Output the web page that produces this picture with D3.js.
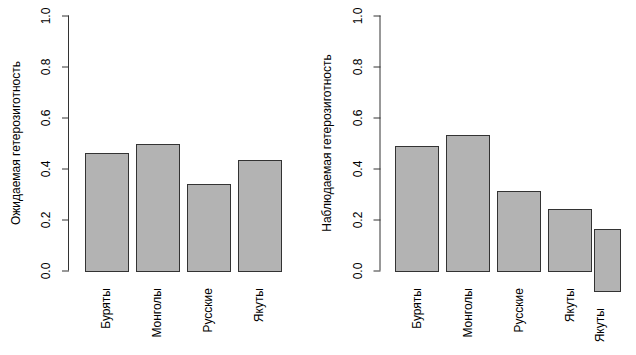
<!DOCTYPE html>
<html>
<head>
<meta charset="utf-8">
<script src="https://cdn.jsdelivr.net/npm/d3@7"></script>
<style>
  body { margin: 0; background: #fff; }
  svg text { font-family: "Liberation Sans", Arial, sans-serif; font-size: 12px; fill: #000; }
</style>
</head>
<body>
<div id="chart"></div>
<script>
// data
const groups = ["Буряты", "Монголы", "Русские", "Якуты"];
const expectedHet = [0.46, 0.495, 0.338, 0.435];
const observedGroups = ["Буряты", "Монголы", "Русские", "Якуты", "Якуты"];
const observedHet = [0.49, 0.53, 0.31, 0.24, 0.162];
const observedBase = [0, 0, 0, 0, -0.079];
const yTicks = [0, 0.2, 0.4, 0.6, 0.8, 1.0];

const width = 636, height = 355;
const unitPx = 42.5; // pixels per bar-width unit (R barplot style)

const svg = d3.select("#chart").append("svg")
    .attr("width", width)
    .attr("height", height);

const y = d3.scaleLinear().domain([0, 1]).range([270.5, 15.5]);

function drawPanel(opts) {
    const g = svg.append("g");
    const x = d3.scaleLinear().domain([0, 1]).range([opts.x0, opts.x0 + unitPx]);

    // bar slots: width 1, space 0.2 (unless a slot is overridden)
    const bars = opts.values.map((v, i) => {
        const slot = (opts.override && opts.override.index === i)
            ? opts.override
            : { x: 0.2 + i * 1.2, w: 1, labelX: 0.7 + i * 1.2 };
        return { name: opts.names[i], value: v, base: opts.bases ? opts.bases[i] : 0, slot };
    });

    g.selectAll("rect.bar")
        .data(bars)
        .enter().append("rect")
        .attr("class", "bar")
        .attr("x", d => Math.round(x(d.slot.x)) + 0.5)
        .attr("width", d => Math.round(x(d.slot.w) - x(0)))
        .attr("y", d => Math.round(y(d.value)) + 0.5)
        .attr("height", d => Math.round(y(d.base)) - Math.round(y(d.value)))
        .style("fill", "#b3b3b3")
        .style("stroke", "#333")
        .style("stroke-width", 1);

    // category labels, perpendicular to the axis
    g.selectAll("text.cat")
        .data(bars)
        .enter().append("text")
        .attr("class", "cat")
        .attr("text-anchor", "end")
        .attr("dy", "0.35em")
        .attr("transform", d => {
            const shift = y(d.base) - y(0);
            return `translate(${x(d.slot.labelX)},${288 + shift}) rotate(-90)`;
        })
        .text(d => d.name);

    // y axis
    const axis = g.append("g")
        .attr("transform", `translate(${opts.axisX},0)`)
        .call(d3.axisLeft(y).tickValues(yTicks).tickSize(7).tickFormat(d3.format(".1f")));
    axis.select(".domain").attr("d", `M-0.5,${y(0)}V${y(1)}`).attr("stroke", "#333");
    axis.selectAll(".tick line").attr("stroke", "#333");
    axis.selectAll(".tick text")
        .attr("x", null)
        .attr("dy", "0.35em")
        .attr("text-anchor", "middle")
        .attr("transform", "translate(-23,0) rotate(-90)")
        .style("font-size", "12px")
        .style("font-family", "'Liberation Sans', Arial, sans-serif")
        .style("fill", "#000");

    // y axis title
    g.append("text")
        .attr("text-anchor", "middle")
        .attr("dy", "0.35em")
        .attr("transform", `translate(${opts.titleX},143) rotate(-90)`)
        .text(opts.title);
}

drawPanel({
    names: groups,
    values: expectedHet,
    x0: 76.5,
    axisX: 69,
    titleX: 16,
    title: "Ожидаемая гетерозиготность"
});

drawPanel({
    names: observedGroups,
    values: observedHet,
    bases: observedBase,
    x0: 386.8,
    axisX: 380.5,
    titleX: 327,
    title: "Наблюдаемая гетерозиготность",
    override: { index: 4, x: 4.87, w: 0.61, labelX: 5.02 }
});
</script>
</body>
</html>
